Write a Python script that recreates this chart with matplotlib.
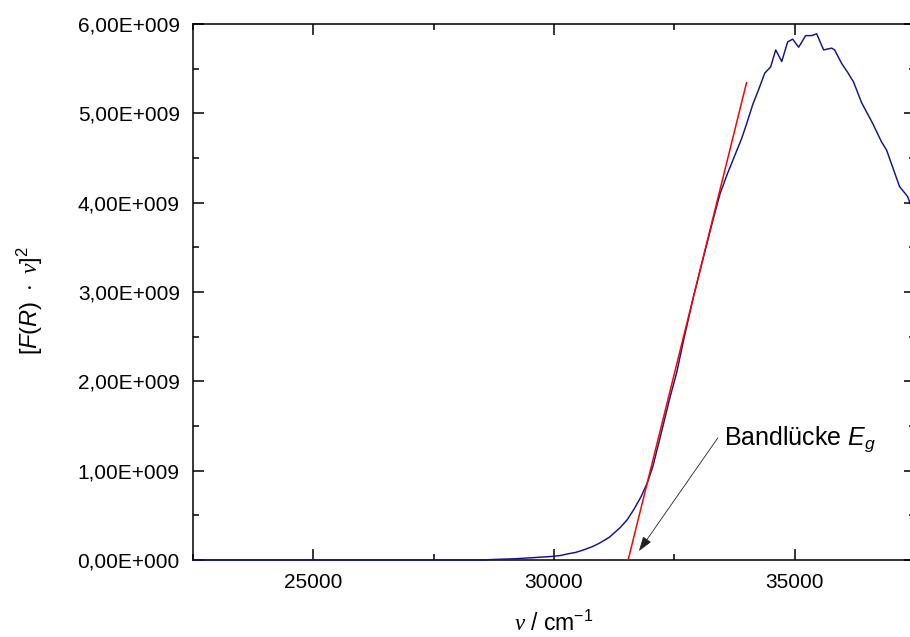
import math

import matplotlib
matplotlib.use("Agg")
import matplotlib.pyplot as plt
from matplotlib.ticker import FuncFormatter, MultipleLocator

plt.rcParams['font.family'] = ['Liberation Sans', 'DejaVu Sans']
plt.rcParams['mathtext.fontset'] = 'custom'
plt.rcParams['mathtext.rm'] = 'Liberation Sans'
plt.rcParams['mathtext.it'] = 'Liberation Sans:italic'
plt.rcParams['mathtext.cal'] = 'Liberation Serif:italic'

# wavenumber (cm^-1) and [F(R)*nu]^2
wavenumber = [22500, 25000, 27500, 28500, 28750, 29200, 29560, 29850, 30000,
              30150, 30270, 30450, 30600, 30800, 30950, 31150, 31370, 31520,
              31653, 31800, 31936, 32050, 32200, 32400, 32550,
              32700, 32900, 33100, 33300, 33450, 33600, 33750, 33900, 34000,
              34130, 34240, 34378, 34502, 34606, 34731, 34855, 34959, 35083,
              35228, 35353, 35457, 35602, 35768, 35830, 35975, 36100, 36224,
              36390, 36618, 36805, 36909, 37179, 37345, 37500]
kubelka = [0.0, 0.0, 0.0, 0.0, 0.006, 0.014, 0.026, 0.036, 0.042,
           0.052, 0.067, 0.085, 0.11, 0.15, 0.19, 0.255, 0.36, 0.45,
           0.56, 0.70, 0.86, 1.04, 1.36, 1.80, 2.10,
           2.48, 2.95, 3.38, 3.80, 4.10, 4.32, 4.52, 4.72, 4.88,
           5.10, 5.25, 5.45, 5.52, 5.71, 5.58, 5.80, 5.83, 5.74,
           5.87, 5.87, 5.89, 5.71, 5.73, 5.71, 5.56, 5.46, 5.35,
           5.12, 4.89, 4.68, 4.59, 4.18, 4.07, 3.85]
kubelka = [k * 1e9 for k in kubelka]

# tangent to the absorption edge
fit_x = [31540, 34000]
fit_y = [0.0, 5.343e9]

# arrow pointing at the band gap
gap_tip = (31764, 0.10e9)
arrow_tail = (33403, 1.366e9)
label_pos = (33527, 1.287e9)


def origin_sci(val, pos):
    if val == 0:
        mant, exp = 0.0, 0
    else:
        exp = int(math.floor(math.log10(abs(val))))
        mant = val / 10 ** exp
    return f"{mant:.2f}".replace('.', ',') + f"E+{exp:03d}"


fig = plt.figure(figsize=(9.1, 6.37), dpi=100)
ax = fig.add_axes([193 / 910, 77 / 637, 722 / 910, 536 / 637])

ax.plot(wavenumber, kubelka, color='#12128c', lw=1.05, zorder=3, clip_on=False)
ax.plot(fit_x, fit_y, color='#ff0000', lw=1.1, zorder=4)

ax.set_xlim(22500, 37500)
ax.set_ylim(0, 6e9)
ax.xaxis.set_major_locator(MultipleLocator(5000))
ax.xaxis.set_minor_locator(MultipleLocator(2500))
ax.yaxis.set_major_locator(MultipleLocator(1e9))
ax.yaxis.set_minor_locator(MultipleLocator(0.5e9))
ax.yaxis.set_major_formatter(FuncFormatter(origin_sci))

for s in ax.spines.values():
    s.set_linewidth(1.1)
ax.tick_params(which='both', direction='in', top=True, right=True, width=1.1)
ax.tick_params(which='major', length=7.8)
ax.tick_params(which='minor', length=4.3)
ax.tick_params(axis='x', which='major', labelsize=15, pad=9.5)
ax.tick_params(axis='y', which='major', labelsize=15, pad=9.5)

ax.set_xlabel(r'$\mathcal{\nu}$ / cm$^{-1}$', fontsize=16.5, va='top')
ax.xaxis.set_label_coords(0.5, -0.095)
ax.set_ylabel(r'$[F(R)\ \cdot\ \mathcal{\nu}]^2$', fontsize=17)
ax.yaxis.set_label_coords(-0.205, 0.485)

ax.annotate('', xy=gap_tip, xytext=arrow_tail,
            arrowprops=dict(arrowstyle='-|>,head_length=0.9,head_width=0.3',
                            color='#222222', lw=0.6, shrinkA=0, shrinkB=0))
ax.text(label_pos[0], label_pos[1], 'Bandlücke $E_g$', fontsize=18,
        ha='left', va='baseline')

fig.savefig('out.png', dpi=100)
